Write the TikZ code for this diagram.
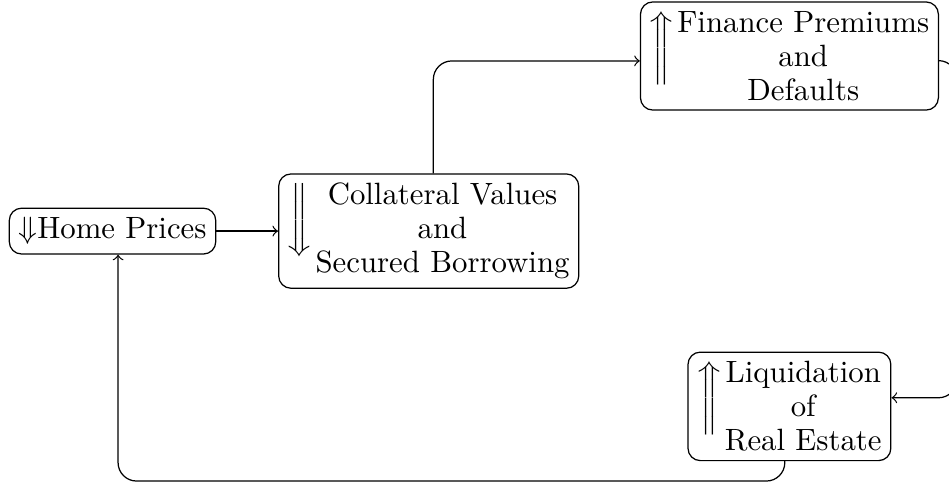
\documentclass[tikz,border=0pt]{standalone}
\usepackage{tikz}
\usetikzlibrary{positioning}
% tall double arrow hanging from the first line, and a centred stack of lines
\newcommand{\tallarrow}[1]{\raisebox{-7.5pt}{$\left#1\vrule height 13pt depth 8pt width 0pt\right.$}}
\newcommand{\stacked}[1]{{\def\\{\cr}\vtop{\halign{\hfil##\hfil\cr#1\crcr}}}}

\begin{document}
\begin{tikzpicture}[font=\fontsize{10pt}{11pt}\selectfont,
	box/.style={draw, rounded corners, inner sep=3pt},
	link/.style={->, rounded corners=6pt}]
	\useasboundingbox (0,0) rectangle (10.829,5.512);
	\node[box] (home) at (1.284,2.875) {$\Downarrow$Home Prices};
	\node[box] (coll) at (4.892,2.875) {\tallarrow{\Downarrow}\stacked{Collateral Values\\and\\Secured Borrowing}};
	\node[box] (fin) at (9.008,4.873) {\tallarrow{\Uparrow}\stacked{Finance Premiums\\and\\Defaults}};
	\node[box] (liq) at (9.008,0.875) {\tallarrow{\Uparrow}\stacked{Liquidation\\of\\Real Estate}};
	\coordinate (rail) at (10.92,2.9);
	\coordinate (floor) at (5,0.023);
	\draw[link] (home) -- (coll);
	\draw[link] ([xshift=1.5pt]coll.north) |- ([yshift=-1.6pt]fin.west);
	\draw[link] ([yshift=-1.5pt]fin.east) -| (rail) |- ([yshift=2.8pt]liq.east);
	\draw[link] ([xshift=-1.5pt]liq.south) |- (floor) -| ([xshift=1.8pt]home.south);
\end{tikzpicture}
\end{document}
